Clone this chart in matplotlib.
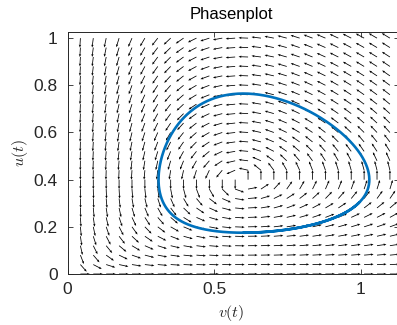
import numpy as np
import matplotlib
matplotlib.use("Agg")
import matplotlib.pyplot as plt

# Lotka-Volterra model: v = prey, u = predator
#   dv/dt = v * (alpha - beta * u)
#   du/dt = u * (gamma * v - delta)
alpha = 0.4
beta = 1.0
gamma = 1.0
delta = 0.6

# starting state of the drawn trajectory (v0, u0)
v_start = 0.6
u_start = 0.175

# direction-field grid
v_grid = np.linspace(0.0, 1.1, 26)
u_grid = np.linspace(0.0, 1.0, 26)

x_ticks = [0, 0.5, 1]
x_tick_labels = ["0", "0.5", "1"]
y_ticks = [0, 0.2, 0.4, 0.6, 0.8, 1]
y_tick_labels = ["0", "0.2", "0.4", "0.6", "0.8", "1"]

title_text = "Phasenplot"
x_label = r"$v(t)$"
y_label = r"$u(t)$"


def rhs(state):
    v, u = state
    return np.array([v * (alpha - beta * u), u * (gamma * v - delta)])


def trajectory(v0, u0, t_end=16.0, dt=0.01):
    y = np.array([v0, u0], dtype=float)
    pts = [y.copy()]
    for _ in range(int(t_end / dt)):
        k1 = rhs(y)
        k2 = rhs(y + 0.5 * dt * k1)
        k3 = rhs(y + 0.5 * dt * k2)
        k4 = rhs(y + dt * k3)
        y = y + dt / 6.0 * (k1 + 2 * k2 + 2 * k3 + k4)
        pts.append(y.copy())
    return np.array(pts)


plt.rcParams["font.family"] = ["Liberation Sans", "DejaVu Sans"]
plt.rcParams["mathtext.fontset"] = "cm"

W, H = 397, 325
fig = plt.figure(figsize=(W / 100, H / 100), dpi=100)

# axes box in pixels (right edge runs just past the canvas)
left_px, right_px, bottom_px, top_px = 67.5, 399.0, 274.0, 32.0
ax = fig.add_axes([left_px / W, 1 - bottom_px / H,
                   (right_px - left_px) / W, (bottom_px - top_px) / H])

xmax, ymax = 1.131, 1.026
ax.set_xlim(0, xmax)
ax.set_ylim(0, ymax)

# pixels per data unit, used to give every arrow the same on-screen length
sx = (right_px - left_px) / xmax
sy = (bottom_px - top_px) / ymax

V, U = np.meshgrid(v_grid, u_grid)
dV = V * (alpha - beta * U)
dU = U * (gamma * V - delta)
px = dV * sx
py = dU * sy
norm = np.hypot(px, py)
with np.errstate(invalid="ignore", divide="ignore"):
    arrow_px = 9.5
    qx = np.where(norm > 0, px / norm * arrow_px / sx, np.nan)
    qy = np.where(norm > 0, py / norm * arrow_px / sy, np.nan)

ax.quiver(V, U, qx, qy, angles="xy", scale_units="xy", scale=1,
          pivot="tail", color="black", width=0.0024,
          headwidth=3.0, headlength=3.6, headaxislength=3.2, zorder=2)

orbit = trajectory(v_start, u_start)
ax.plot(orbit[:, 0], orbit[:, 1], color="#0072BD", lw=1.9, zorder=3,
        solid_capstyle="round")

ax.set_xticks(x_ticks)
ax.set_xticklabels(x_tick_labels)
ax.set_yticks(y_ticks)
ax.set_yticklabels(y_tick_labels)
ax.tick_params(direction="in", length=3.5, width=0.6, colors="#262626",
               labelsize=12.5, top=True, right=True, pad=6)
ax.tick_params(axis="y", pad=7)
for sp in ax.spines.values():
    sp.set_linewidth(0.7)
    sp.set_color("#262626")

fig.text(231 / W, 1 - 15 / H, title_text, ha="center", va="center",
         fontsize=12, color="black")
fig.text(231 / W, 1 - 313 / H, x_label, ha="center", va="center",
         fontsize=11.5, color="#262626")
fig.text(20 / W, 1 - 153 / H, y_label, ha="center", va="center",
         fontsize=11.5, color="#262626", rotation=90)

fig.savefig("out.png", dpi=100)
